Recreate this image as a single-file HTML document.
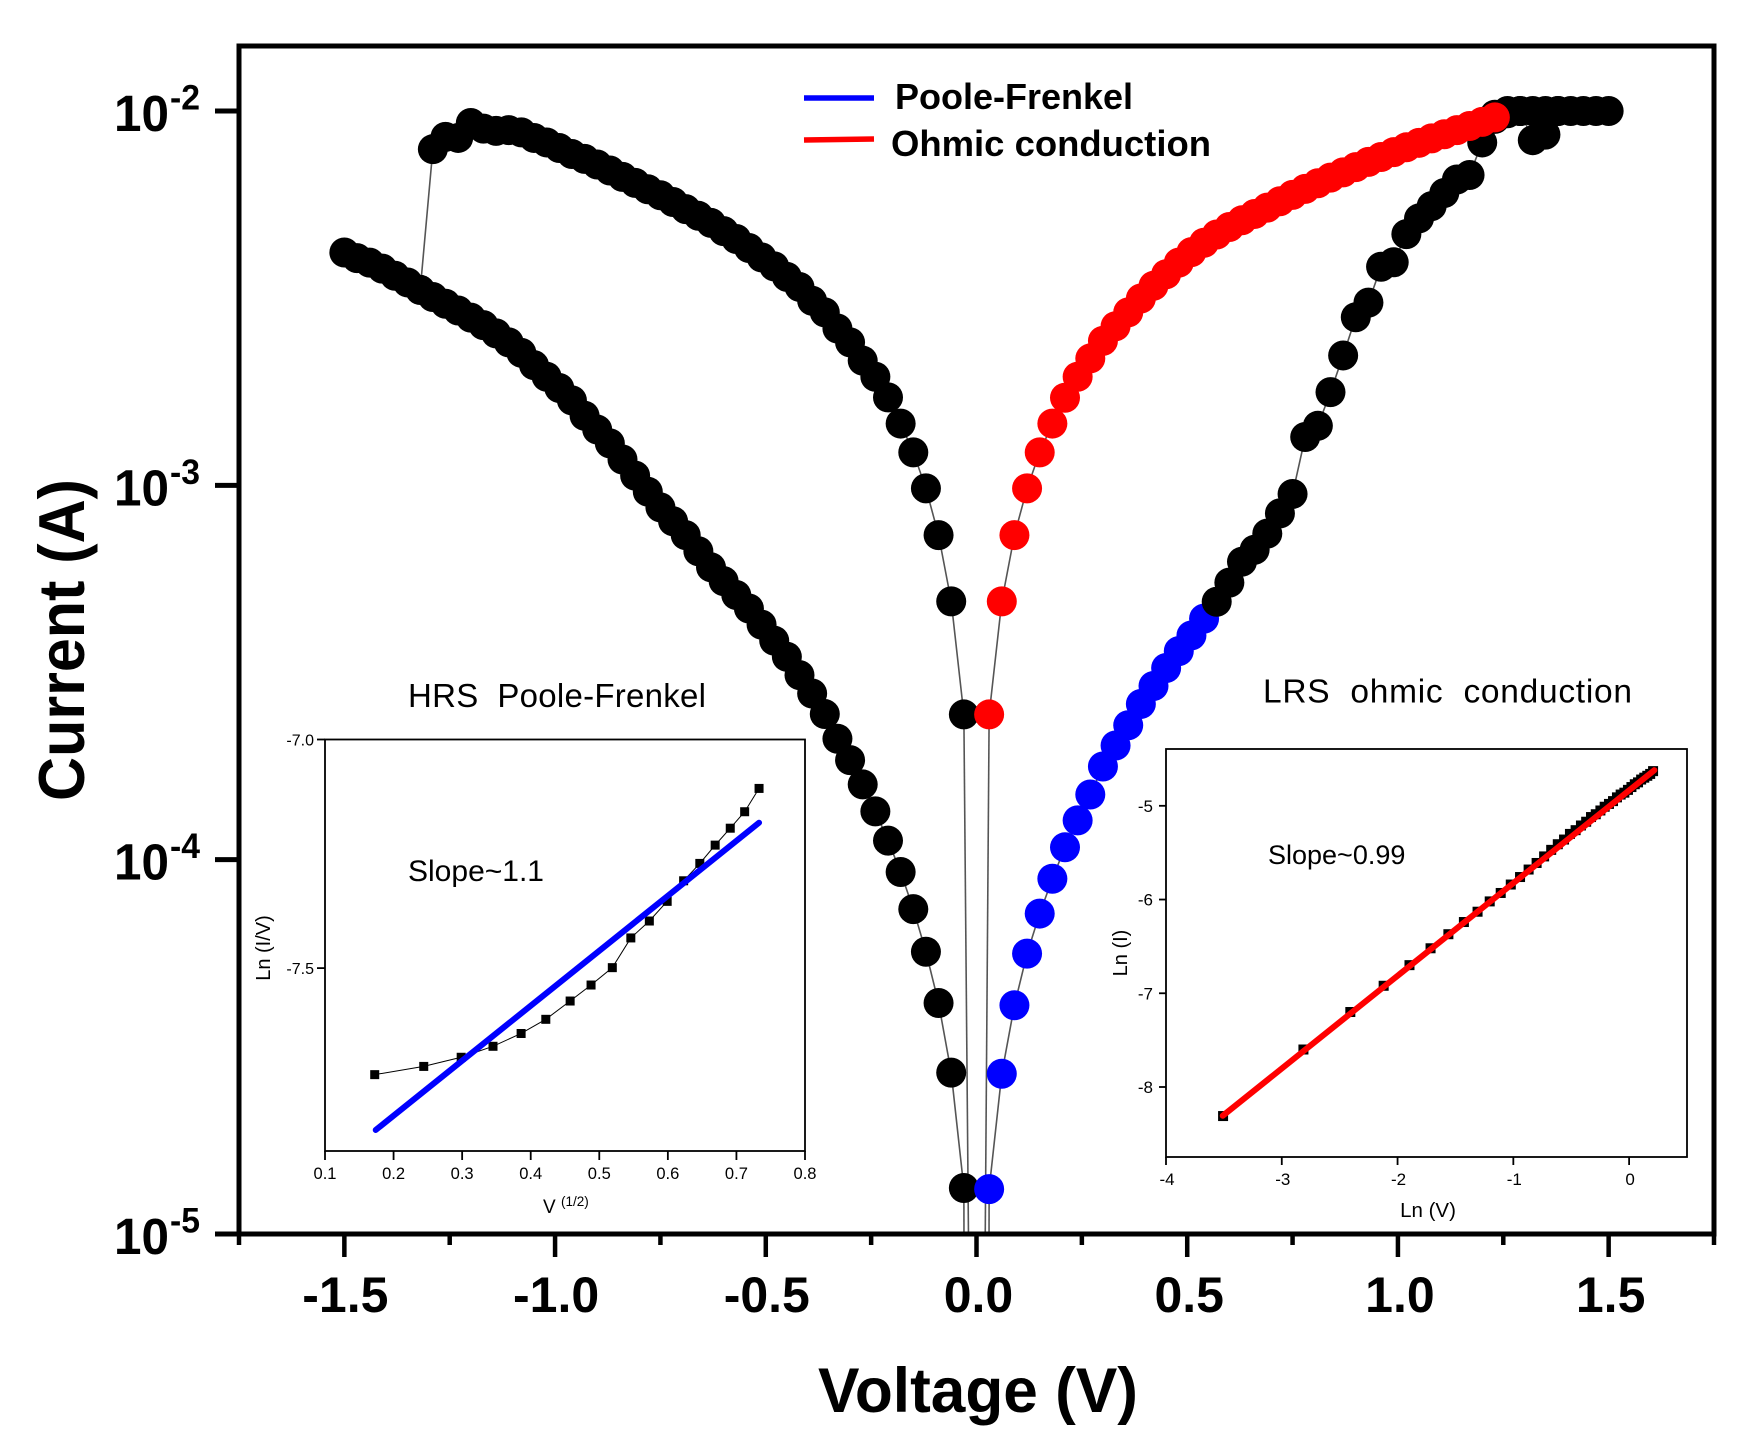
<!DOCTYPE html>
<html lang="en">
<head>
<meta charset="utf-8">
<title>Current vs Voltage with conduction-mechanism insets</title>
<style>
html,body{margin:0;padding:0;background:#fff;width:1757px;height:1440px;overflow:hidden;}
svg{display:block;font-family:"Liberation Sans",sans-serif;}
text{white-space:pre;fill:#000;}
</style>
</head>
<body>
<svg id="figure" xmlns="http://www.w3.org/2000/svg" width="1757" height="1440" viewBox="0 0 1757 1440">
  <defs>
    <clipPath id="main-clip"><rect x="237" y="44" width="1479" height="1192"/></clipPath>
  </defs>
  <rect x="0" y="0" width="1757" height="1440" fill="#fff"/>
  <g id="main-series" clip-path="url(#main-clip)"></g>
  <rect x="239" y="46" width="1475" height="1188" fill="none" stroke="#000" stroke-width="5"/>
  <g id="main-axes"></g>

  <text x="818" y="1412" font-size="63" font-weight="bold" textLength="320" lengthAdjust="spacingAndGlyphs">Voltage (V)</text>
  <text transform="translate(84,801) rotate(-90)" font-size="65" font-weight="bold" textLength="322" lengthAdjust="spacingAndGlyphs">Current (A)</text>

  <g>
    <line x1="804" y1="98" x2="874" y2="98" stroke="#0000ff" stroke-width="5.5"/>
    <text x="895" y="109" font-size="36" font-weight="bold">Poole-Frenkel</text>
    <line x1="804" y1="140" x2="874" y2="139" stroke="#ff0000" stroke-width="5.5"/>
    <text x="891" y="156" font-size="36" font-weight="bold" textLength="320" lengthAdjust="spacingAndGlyphs">Ohmic conduction</text>
  </g>

  <g id="hrs-inset">
    <text x="408" y="707" font-size="33" textLength="298">HRS  Poole-Frenkel</text>
    <rect x="325" y="739.5" width="480" height="411.5" fill="none" stroke="#000" stroke-width="1.8"/>
    <text x="408" y="881" font-size="30" textLength="136" lengthAdjust="spacingAndGlyphs">Slope~1.1</text>
    <text x="543" y="1213" font-size="19">V</text>
    <text x="561" y="1206" font-size="13.5">(1/2)</text>
    <text transform="translate(270,948) rotate(-90)" text-anchor="middle" font-size="20">Ln (I/V)</text>
  </g>

  <g id="lrs-inset">
    <text x="1263" y="702.5" font-size="33.5" textLength="369">LRS  ohmic  conduction</text>
    <rect x="1166" y="749" width="521" height="408" fill="none" stroke="#000" stroke-width="1.8"/>
    <text x="1268" y="864" font-size="27">Slope~0.99</text>
    <text x="1428" y="1217" text-anchor="middle" font-size="20.5">Ln (V)</text>
    <text transform="translate(1127,953) rotate(-90)" text-anchor="middle" font-size="20">Ln (I)</text>
  </g>
</svg>

<script>
// ---- main chart data (voltage in V, current as log10 of amps) ----
const xTickValues = [-1.75,-1.5,-1.25,-1,-0.75,-0.5,-0.25,0,0.25,0.5,0.75,1,1.25,1.5,1.75];
const xTickLabels = ["","-1.5","","-1.0","","-0.5","","0.0","","0.5","","1.0","","1.5",""];
const yTickExponents = [-2,-3,-4,-5];

const negLowerV = [-1.5,-1.47,-1.44,-1.41,-1.38,-1.35,-1.32,-1.29,-1.26,-1.23,-1.2,-1.17,-1.14,-1.11,-1.08,-1.05,-1.02,-0.99,-0.96,-0.93,-0.9,-0.87,-0.84,-0.81,-0.78,-0.75,-0.72,-0.69,-0.66,-0.63,-0.6,-0.57,-0.54,-0.51,-0.48,-0.45,-0.42,-0.39,-0.36,-0.33,-0.3,-0.27,-0.24,-0.21,-0.18,-0.15,-0.12,-0.09,-0.06,-0.03];
const negLowerLogI = [-2.378,-2.393,-2.405,-2.421,-2.44,-2.458,-2.478,-2.497,-2.515,-2.533,-2.552,-2.572,-2.594,-2.618,-2.646,-2.679,-2.71,-2.74,-2.773,-2.814,-2.851,-2.888,-2.931,-2.974,-3.017,-3.059,-3.096,-3.133,-3.176,-3.219,-3.256,-3.293,-3.329,-3.372,-3.415,-3.458,-3.507,-3.556,-3.611,-3.677,-3.734,-3.799,-3.871,-3.949,-4.033,-4.132,-4.246,-4.383,-4.569,-4.877];

const negUpperV = [-1.32,-1.29,-1.26,-1.23,-1.2,-1.17,-1.14,-1.11,-1.08,-1.05,-1.02,-0.99,-0.96,-0.93,-0.9,-0.87,-0.84,-0.81,-0.78,-0.75,-0.72,-0.69,-0.66,-0.63,-0.6,-0.57,-0.54,-0.51,-0.48,-0.45,-0.42,-0.39,-0.36,-0.33,-0.3,-0.27,-0.24,-0.21,-0.18,-0.15,-0.12,-0.09,-0.06,-0.03];
const negUpperLogI = [-2.478,-2.102,-2.069,-2.072,-2.032,-2.047,-2.053,-2.051,-2.057,-2.072,-2.084,-2.099,-2.115,-2.128,-2.143,-2.159,-2.176,-2.192,-2.209,-2.225,-2.243,-2.262,-2.28,-2.299,-2.321,-2.342,-2.366,-2.391,-2.415,-2.443,-2.47,-2.507,-2.538,-2.581,-2.618,-2.667,-2.71,-2.765,-2.835,-2.912,-3.008,-3.133,-3.31,-3.612];

const poolePosV = [0.03,0.06,0.09,0.12,0.15,0.18,0.21,0.24,0.27,0.3,0.33,0.36,0.39,0.42,0.45,0.48,0.51,0.54];
const poolePosLogI = [-4.88,-4.572,-4.389,-4.251,-4.144,-4.051,-3.967,-3.895,-3.826,-3.751,-3.695,-3.641,-3.584,-3.536,-3.488,-3.443,-3.401,-3.356];

const posLowerV = [0.57,0.6,0.63,0.66,0.69,0.72,0.75,0.78,0.81,0.84,0.87,0.9,0.93,0.96,0.99,1.02,1.05,1.08,1.11,1.14,1.17,1.2,1.23,1.26,1.29,1.32,1.35,1.38,1.41,1.44,1.47,1.5];
const posLowerLogI = [-3.311,-3.26,-3.204,-3.172,-3.129,-3.075,-3.023,-2.871,-2.841,-2.751,-2.653,-2.551,-2.512,-2.416,-2.404,-2.329,-2.287,-2.254,-2.219,-2.183,-2.171,-2.084,-2.021,-2.006,-2,-2.078,-2.063,-2,-2,-2,-2,-2];

const complianceV = [1.23,1.26,1.29,1.32,1.35,1.38];
const complianceLogI = [-2.01,-2,-2,-2,-2,-2];

const ohmicPosV = [0.03,0.06,0.09,0.12,0.15,0.18,0.21,0.24,0.27,0.3,0.33,0.36,0.39,0.42,0.45,0.48,0.51,0.54,0.57,0.6,0.63,0.66,0.69,0.72,0.75,0.78,0.81,0.84,0.87,0.9,0.93,0.96,0.99,1.02,1.05,1.08,1.11,1.14,1.17,1.2,1.23];
const ohmicPosLogI = [-3.612,-3.31,-3.133,-3.008,-2.912,-2.835,-2.766,-2.71,-2.661,-2.614,-2.575,-2.538,-2.501,-2.467,-2.436,-2.405,-2.377,-2.352,-2.33,-2.31,-2.292,-2.275,-2.258,-2.241,-2.224,-2.208,-2.193,-2.178,-2.164,-2.15,-2.136,-2.123,-2.11,-2.097,-2.085,-2.073,-2.062,-2.051,-2.04,-2.029,-2.017];

// near-zero tails: [voltage, log10 current] where each curve leaves through the bottom axis
const tailUpperLeft = [-0.019,-5.01];
const tailLowerLeft = [-0.0297,-5.01];
const tailUpperRight = [0.0207,-5.01];
const tailLowerRight = [0.0297,-5.01];

// ---- HRS inset data ----
const hrsXTicks = [0.1,0.2,0.3,0.4,0.5,0.6,0.7,0.8];
const hrsXLabels = ["0.1","0.2","0.3","0.4","0.5","0.6","0.7","0.8"];
const hrsYTicks = [-7,-7.5];
const hrsYLabels = ["-7.0","-7.5"];
const hrsSqrtV = [0.1725,0.244,0.2986,0.345,0.386,0.422,0.4575,0.488,0.519,0.546,0.573,0.599,0.623,0.6466,0.669,0.691,0.712,0.733];
const hrsLnIV = [-7.733,-7.715,-7.695,-7.671,-7.643,-7.612,-7.572,-7.537,-7.499,-7.434,-7.397,-7.354,-7.309,-7.271,-7.231,-7.194,-7.158,-7.107];
const hrsFitX = [0.174,0.733];
const hrsFitY = [-7.854,-7.182];

// ---- LRS inset data ----
const lrsXTicks = [-4,-3,-2,-1,0];
const lrsXLabels = ["-4","-3","-2","-1","0"];
const lrsYTicks = [-5,-6,-7,-8];
const lrsYLabels = ["-5","-6","-7","-8"];
const lrsLnV = [-3.507,-2.813,-2.408,-2.12,-1.897,-1.715,-1.561,-1.427,-1.309,-1.204,-1.109,-1.022,-0.942,-0.868,-0.799,-0.734,-0.673,-0.616,-0.562,-0.511,-0.462,-0.416,-0.371,-0.329,-0.288,-0.248,-0.211,-0.174,-0.139,-0.105,-0.073,-0.041,-0.01,0.02,0.049,0.077,0.104,0.131,0.157,0.182,0.207];
const lrsLnI = [-8.31,-7.6,-7.2,-6.92,-6.7,-6.52,-6.37,-6.24,-6.13,-6.02,-5.93,-5.84,-5.76,-5.68,-5.61,-5.54,-5.47,-5.41,-5.36,-5.3,-5.26,-5.21,-5.17,-5.12,-5.09,-5.05,-5.01,-4.98,-4.95,-4.91,-4.88,-4.86,-4.83,-4.8,-4.77,-4.75,-4.72,-4.7,-4.68,-4.66,-4.63];
const lrsFitX = [-3.51,0.218];
const lrsFitY = [-8.307,-4.62];

// ---- axis functions ----
const NS = 'http://www.w3.org/2000/svg';
function linear(d0, d1, r0, r1) {
  return function (v) { return r0 + (v - d0) * (r1 - r0) / (d1 - d0); };
}
const xMain = linear(-1.75, 1.75, 239, 1714);
const yMain = linear(-2, -5, 111, 1234);
const xHrs = linear(0.1, 0.8, 325, 805);
const yHrs = linear(-7, -7.9, 739.5, 1151);
const xLrs = linear(-4, 0.5, 1166, 1687);
const yLrs = linear(-5, -8, 805.8, 1087);

function make(tag, attrs, parent, content) {
  const node = document.createElementNS(NS, tag);
  for (const key in attrs) node.setAttribute(key, attrs[key]);
  if (content !== undefined) node.textContent = content;
  parent.appendChild(node);
  return node;
}
function pointsOf(xs, ys, fx, fy) {
  return xs.map(function (v, i) { return fx(v).toFixed(2) + ',' + fy(ys[i]).toFixed(2); }).join(' ');
}

// ---- main chart ----
const seriesLayer = document.getElementById('main-series');
const axesLayer = document.getElementById('main-axes');
const LINE = '#555555';
const RADIUS = 15;

function drawConnector(xs, ys, name) {
  const line = make('polyline', {points: pointsOf(xs, ys, xMain, yMain), fill: 'none', stroke: LINE, 'stroke-width': 1.6}, seriesLayer);
  
  
}
function drawDots(xs, ys, color, name) {
  xs.forEach(function (v, i) {
    const dot = make('circle', {cx: xMain(v).toFixed(2), cy: yMain(ys[i]).toFixed(2), r: RADIUS, fill: color}, seriesLayer);
    
    
  });
}

drawConnector(negUpperV, negUpperLogI, 'negative-upper-line');
drawConnector(negLowerV, negLowerLogI, 'negative-lower-line');
drawConnector(poolePosV.concat(posLowerV), poolePosLogI.concat(posLowerLogI), 'positive-lower-line');
drawConnector(ohmicPosV, ohmicPosLogI, 'positive-upper-line');
drawConnector([-0.03, tailUpperLeft[0]], [negUpperLogI[negUpperLogI.length - 1], tailUpperLeft[1]], 'tail-upper-left');
drawConnector([-0.03, tailLowerLeft[0]], [negLowerLogI[negLowerLogI.length - 1], tailLowerLeft[1]], 'tail-lower-left');
drawConnector([0.03, tailUpperRight[0]], [ohmicPosLogI[0], tailUpperRight[1]], 'tail-upper-right');
drawConnector([0.03, tailLowerRight[0]], [poolePosLogI[0], tailLowerRight[1]], 'tail-lower-right');

drawDots(negLowerV, negLowerLogI, '#000000', 'negative-lower-point');
drawDots(negUpperV, negUpperLogI, '#000000', 'negative-upper-point');
drawDots(complianceV, complianceLogI, '#000000', 'compliance-point');
drawDots(poolePosV, poolePosLogI, '#0000ff', 'poole-frenkel-point');
drawDots(posLowerV, posLowerLogI, '#000000', 'positive-lower-point');
drawDots(ohmicPosV, ohmicPosLogI, '#ff0000', 'ohmic-point');

xTickValues.forEach(function (v, i) {
  const major = xTickLabels[i] !== '';
  const x = xMain(v);
  const tick = make('line', {x1: x, x2: x, y1: 1234, y2: major ? 1257 : 1245, stroke: '#000', 'stroke-width': 4.5}, axesLayer);
  
  
  if (major) {
    const label = make('text', {x: x + (v < 0 ? 1 : 2), y: 1312, 'text-anchor': 'middle', 'font-size': 50, 'font-weight': 'bold'}, axesLayer, xTickLabels[i]);
    
    
  }
});

yTickExponents.forEach(function (exp) {
  const y = yMain(exp);
  const tick = make('line', {x1: 215, x2: 239, y1: y, y2: y, stroke: '#000', 'stroke-width': 5}, axesLayer);
  
  
  const base = make('text', {x: 114, y: y + 20, 'font-size': 51, 'font-weight': 'bold', textLength: 55, lengthAdjust: 'spacingAndGlyphs'}, axesLayer, '10');
  
  
  const sup = make('text', {x: 170, y: y - 1.5, 'font-size': 35, 'font-weight': 'bold', textLength: 30, lengthAdjust: 'spacingAndGlyphs'}, axesLayer, String(exp));
  
  
});

// ---- HRS inset ----
const hrsLayer = document.getElementById('hrs-inset');
hrsXTicks.forEach(function (v, i) {
  const x = xHrs(v);
  const tick = make('line', {x1: x, x2: x, y1: 1151, y2: 1160, stroke: '#000', 'stroke-width': 1.8}, hrsLayer);
  
  
  const label = make('text', {x: x, y: 1179, 'text-anchor': 'middle', 'font-size': 17, textLength: 23, lengthAdjust: 'spacingAndGlyphs'}, hrsLayer, hrsXLabels[i]);
  
  
});
hrsYTicks.forEach(function (v, i) {
  const y = yHrs(v);
  const tick = make('line', {x1: 317, x2: 325, y1: y, y2: y, stroke: '#000', 'stroke-width': 1.8}, hrsLayer);
  
  
  const label = make('text', {x: 314, y: y + 6, 'text-anchor': 'end', 'font-size': 16}, hrsLayer, hrsYLabels[i]);
  
  
});
const hrsLine = make('polyline', {points: pointsOf(hrsSqrtV, hrsLnIV, xHrs, yHrs), fill: 'none', stroke: '#000', 'stroke-width': 1}, hrsLayer);


hrsSqrtV.forEach(function (v, i) {
  const square = make('rect', {x: xHrs(v) - 4.5, y: yHrs(hrsLnIV[i]) - 4.5, width: 9, height: 9, fill: '#000'}, hrsLayer);
  
  
});
const hrsFit = make('line', {x1: xHrs(hrsFitX[0]), y1: yHrs(hrsFitY[0]), x2: xHrs(hrsFitX[1]), y2: yHrs(hrsFitY[1]), stroke: '#0000ff', 'stroke-width': 6, 'stroke-linecap': 'round'}, hrsLayer);



// ---- LRS inset ----
const lrsLayer = document.getElementById('lrs-inset');
lrsXTicks.forEach(function (v, i) {
  const x = xLrs(v);
  const tick = make('line', {x1: x, x2: x, y1: 1157, y2: 1165, stroke: '#000', 'stroke-width': 1.8}, lrsLayer);
  
  
  const label = make('text', {x: x + 1, y: 1185, 'text-anchor': 'middle', 'font-size': 17}, lrsLayer, lrsXLabels[i]);
  
  
});
lrsYTicks.forEach(function (v, i) {
  const y = yLrs(v);
  const tick = make('line', {x1: 1159, x2: 1166, y1: y, y2: y, stroke: '#000', 'stroke-width': 1.8}, lrsLayer);
  
  
  const label = make('text', {x: 1153, y: y + 6, 'text-anchor': 'end', 'font-size': 17}, lrsLayer, lrsYLabels[i]);
  
  
});
lrsLnV.forEach(function (v, i) {
  const square = make('rect', {x: xLrs(v) - 5, y: yLrs(lrsLnI[i]) - 5, width: 10, height: 10, fill: '#000'}, lrsLayer);
  
  
});
const lrsFit = make('line', {x1: xLrs(lrsFitX[0]), y1: yLrs(lrsFitY[0]), x2: xLrs(lrsFitX[1]), y2: yLrs(lrsFitY[1]), stroke: '#ff0000', 'stroke-width': 6, 'stroke-linecap': 'round'}, lrsLayer);


</script>
</body>
</html>
